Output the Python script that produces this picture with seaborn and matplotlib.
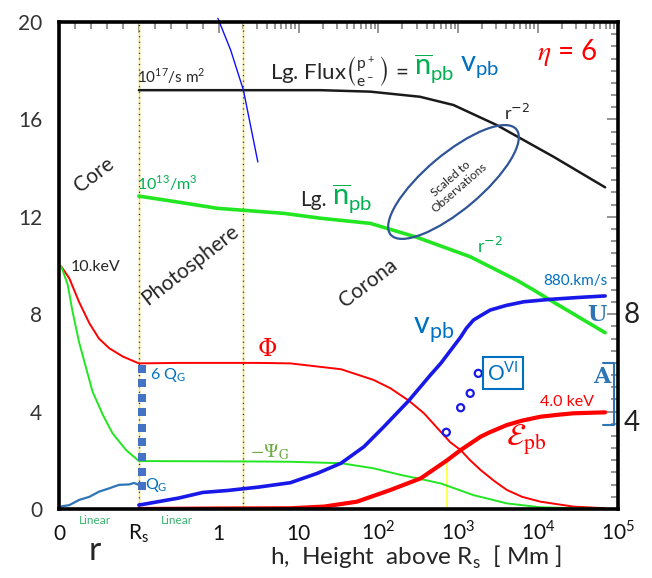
import numpy as np
import matplotlib
matplotlib.use("Agg")
import matplotlib.pyplot as plt
import matplotlib.transforms as mtransforms
from matplotlib.patches import Ellipse
from matplotlib.ticker import FixedLocator, NullFormatter
import seaborn as sns

sns.set_theme(style="white")
plt.rcParams["font.family"] = ["Lato", "DejaVu Sans"]

# x axis: -1..0 = r/Rs - 1 (core, linear), 0..1 Mm linear height, above 1 Mm log height
def fwd(x):
    x = np.asarray(x, dtype=float)
    safe = np.where(x > 1, x, 1.0)
    return np.where(x <= 1, 1 + x, 2 + np.log10(safe))

def inv(u):
    u = np.asarray(u, dtype=float)
    return np.where(u <= 2, u - 1, 10 ** (np.where(u > 2, u, 2) - 2))

# ---- data (x in the combined coordinate above) ----
flux_x = [0, 1, 19, 79, 331, 871, 3020, 15500, 69000]
flux_y = [17.2, 17.2, 17.2, 17.14, 16.93, 16.59, 15.77, 14.47, 13.21]

npb_x = [0, 0.5, 0.98, 6.6, 19, 79, 302, 1410, 5370, 8710, 14100, 69000]
npb_y = [12.85, 12.6, 12.35, 12.14, 11.94, 11.73, 11.16, 10.36, 9.4, 9.0, 8.58, 7.24]

nH_x = [0.99, 1.41, 2.04, 3.09]
nH_y = [20.15, 18.85, 17.2, 14.25]

phi_x = [-1, -0.97, -0.87, -0.75, -0.62, -0.5, -0.37, -0.2, 0, 0.5, 3.16, 7.9,
         34, 87, 141, 240, 372, 603, 794, 1070, 1410, 1905, 2820, 4070, 6300,
         10700, 27500, 69000]
phi_y = [10, 9.95, 9.47, 8.51, 7.63, 7.0, 6.6, 6.26, 5.98, 6.0, 6.0, 5.98,
         5.74, 5.3, 4.96, 4.45, 3.93, 3.17, 2.74, 2.42, 2.0, 1.6, 1.15, 0.78, 0.5,
         0.3, 0.1, 0.03]

psi_x = [-1, -0.97, -0.89, -0.83, -0.75, -0.66, -0.58, -0.45, -0.33, -0.16, 0,
         3.16, 7.9, 34, 87, 190, 372, 603, 1549, 4070, 10700, 69000]
psi_y = [10, 9.95, 9.2, 8.1, 6.87, 5.78, 4.82, 3.86, 3.11, 2.42, 1.97,
         1.95, 1.94, 1.88, 1.67, 1.4, 1.2, 1.05, 0.57, 0.23, 0.07, 0.0]

vpb_x = [0, 0.5, 0.8, 1.29, 3.16, 7.9, 17, 34, 66, 117, 240, 447, 603, 1070,
         1260, 1549, 2000, 2512, 3980, 6600, 14100, 33000, 69000]
vpb_y = [0.16, 0.45, 0.68, 0.76, 0.9, 1.08, 1.46, 1.88, 2.56, 3.38, 4.45, 5.5,
         5.98, 7.06, 7.42, 7.76, 7.98, 8.17, 8.36, 8.51, 8.61, 8.69, 8.75]

eps_x = [0, 1, 7.9, 20.9, 53.7, 141, 339, 724, 1070, 1905, 2512, 4070, 6300,
         10700, 17800, 27500, 69000]
eps_y = [0.0, 0.02, 0.03, 0.1, 0.3, 0.78, 1.26, 2.0, 2.42, 2.97, 3.16, 3.45, 3.63,
         3.79, 3.87, 3.93, 3.97]

qg_x = [-1, -0.87, -0.75, -0.62, -0.5, -0.37, -0.25, -0.12, -0.06, 0]
qg_y = [0.09, 0.16, 0.37, 0.5, 0.71, 0.85, 0.99, 1.01, 1.07, 0.99]

sq_x = [0.04] * 9
sq_y = [5.74, 5.16, 4.55, 3.97, 3.34, 2.76, 2.15, 1.53, 0.96]

ovi_x = [708, 1070, 1410, 1780]
ovi_y = [3.15, 4.16, 4.75, 5.57]

vlines_x = [0, 2]

major_x = [-1, 0, 1, 10, 100, 1e3, 1e4, 1e5]
major_lab = ["0", r"R$_\mathregular{s}$", "1", "10", r"10$^\mathregular{2}$",
             r"10$^\mathregular{3}$", r"10$^\mathregular{4}$", r"10$^\mathregular{5}$"]
minor_x = ([-0.8, -0.6, -0.4, -0.2, 0.2, 0.4, 0.6, 0.8]
           + [k * 10 ** d for d in range(0, 5) for k in range(2, 10)])

# colours
LIME = "#22e622"
TGREEN = "#00b050"
TBLUE = "#0070c0"
CBLUE = "#1818e8"
RED = "#ff0000"

W, H = 652, 578
fig = plt.figure(figsize=(W / 100, H / 100), dpi=100)
ax = fig.add_axes([59 / W, 1 - 509 / H, 559 / W, 487 / H])

for xv in vlines_x:
    ax.axvline(xv, color="#ffee00", lw=1.0, zorder=1)
    ax.axvline(xv, color="#2020c0", lw=1.0, ls=(0, (0.8, 3.2)), zorder=1)

sns.lineplot(x=flux_x, y=flux_y, ax=ax, color="k", lw=1.8, sort=False, estimator=None)
sns.lineplot(x=npb_x, y=npb_y, ax=ax, color=LIME, lw=2.6, sort=False, estimator=None)
sns.lineplot(x=nH_x, y=nH_y, ax=ax, color="#1010ff", lw=1.0, sort=False,
             estimator=None, clip_on=False)
sns.lineplot(x=phi_x, y=phi_y, ax=ax, color=RED, lw=1.4, sort=False, estimator=None)
sns.lineplot(x=psi_x, y=psi_y, ax=ax, color=LIME, lw=1.4, sort=False, estimator=None)
sns.lineplot(x=vpb_x, y=vpb_y, ax=ax, color=CBLUE, lw=2.6, sort=False, estimator=None)
sns.lineplot(x=eps_x, y=eps_y, ax=ax, color=RED, lw=3.0, sort=False, estimator=None)
sns.lineplot(x=qg_x, y=qg_y, ax=ax, color="#2e75b6", lw=1.6, sort=False, estimator=None)
ax.vlines(eps_x[7], 0, eps_y[7], color="#ffff55", lw=1.5, zorder=1)

sns.scatterplot(x=sq_x, y=sq_y, ax=ax, marker="s", s=32, color="#4472c4",
                edgecolor="none", zorder=4)
sns.scatterplot(x=ovi_x, y=ovi_y, ax=ax, marker="o", s=26, facecolors="none",
                edgecolors=CBLUE, linewidth=1.6, zorder=4)

ax.set_xscale("function", functions=(fwd, inv))
ax.set_xlim(-1, 1e5)
ax.set_ylim(0, 20)
ax.set_xlabel("")
ax.set_ylabel("")

ax.xaxis.set_major_locator(FixedLocator(major_x))
ax.xaxis.set_minor_locator(FixedLocator(minor_x))
ax.xaxis.set_minor_formatter(NullFormatter())
ax.set_xticklabels(major_lab)
ax.set_yticks([0, 4, 8, 12, 16, 20])
ax.set_yticks(np.arange(0, 20.01, 0.5), minor=True)

ax.tick_params(which="both", direction="in", top=True, right=True,
               color="#777777", width=1.1)
ax.tick_params(which="major", length=8)
ax.tick_params(which="minor", length=5)
ax.tick_params(axis="x", which="major", labelsize=15, pad=22, labelcolor="#111111")
ax.tick_params(axis="y", which="major", labelsize=15, pad=12, labelcolor="#333333")
for tl in ax.get_xticklabels():
    tl.set_verticalalignment("baseline")

for s in ax.spines.values():
    s.set_color("black")
    s.set_linewidth(2.6)
    s.set_visible(True)

# ellipse "Scaled to Observations"
etrans = fig.dpi_scale_trans + mtransforms.ScaledTranslation(871, 13.43, ax.transData)
ax.add_patch(Ellipse((0, 0), 1.64, 0.56, angle=40, transform=etrans,
                     fill=False, edgecolor="#2f5597", lw=1.6, zorder=5))

# bracket for "A"
ax.plot([0.973, 0.993, 0.993, 0.973], [0.2998, 0.2998, 0.1725, 0.1725],
        transform=ax.transAxes, color="#2e75b6", lw=1.5, clip_on=False)


def put(px, py, s, **kw):
    kw.setdefault("va", "center")
    fig.text(px / W, 1 - py / H, s, **kw)


put(567, 52, r"$\eta$ = 6", color=RED, fontsize=20, ha="center", math_fontfamily="stix")
put(137, 76, r"10$^\mathregular{17}$/s m$^\mathregular{2}$", fontsize=11, ha="left")
put(270, 72, r"Lg. Flux$\binom{\mathregular{p^+}}{\mathregular{e^-}}$ =", fontsize=16, ha="left")
put(414, 68, r"$\overline{\mathregular{n}}_{\mathregular{pb}}$", color=TGREEN, fontsize=21, ha="left")
put(460, 68, r"v$_{\mathregular{pb}}$", color=TBLUE, fontsize=21, ha="left")
put(517, 113, r"r$^{-2}$", fontsize=13, ha="center")
put(455, 183, "Scaled to\nObservations", fontsize=8.5, rotation=41, ha="center",
    color="#222222", linespacing=1.1)
put(137, 183, r"10$^\mathregular{13}$/m$^\mathregular{3}$", color=TGREEN, fontsize=11.5, ha="left")
put(300, 200, "Lg.", fontsize=15, ha="left")
put(332, 198, r"$\overline{\mathregular{n}}_{\mathregular{pb}}$", color=TGREEN, fontsize=21, ha="left")
put(490, 246, r"r$^{-2}$", color=TGREEN, fontsize=13, ha="center")
put(543, 281, "880.km/s", color=TBLUE, fontsize=11, ha="left")
put(94, 175, "Core", fontsize=15, rotation=37, ha="center")
put(190, 265, "Photosphere", fontsize=15, rotation=38, ha="center")
put(368, 283, "Corona", fontsize=15, rotation=37, ha="center")
put(71, 267, "10.keV", fontsize=11.5, ha="left")
put(150, 375, r"6 Q$_\mathregular{G}$", color=TBLUE, fontsize=11.5, ha="left")
put(145, 485, r"Q$_\mathregular{G}$", color=TBLUE, fontsize=11.5, ha="left")
put(267, 350, "Φ", color=RED, fontsize=17, ha="center", family="DejaVu Serif")
put(250, 452, r"$-\Psi_\mathrm{G}$", color="#70ad47", fontsize=14, ha="left", math_fontfamily="stix")
put(413, 330, r"v$_{\mathregular{pb}}$", color=TBLUE, fontsize=22, ha="left")
put(503, 373, r"O$^{\mathregular{VI}}$", color=TBLUE, fontsize=15, ha="center",
    bbox=dict(boxstyle="square,pad=0.2", fc="white", ec=TBLUE, lw=1.5))
put(540, 402, "4.0 keV", color=RED, fontsize=11.5, ha="left")
put(526, 440, r"$\mathcal{E}_{\mathrm{pb}}$", color=RED, fontsize=22, ha="center", math_fontfamily="stix")
put(597, 315, "U", color="#2e75b6", fontsize=16, ha="center", family="DejaVu Serif", weight="bold")
put(602, 377, "A", color="#2e75b6", fontsize=16, ha="center", family="DejaVu Serif", weight="bold")
put(632, 315, "8", fontsize=20, ha="center", color="#222222")
put(632, 423, "4", fontsize=20, ha="center", color="#222222")
put(95, 520, "Linear", color="#3cb371", fontsize=8.5, ha="center")
put(177, 521, "Linear", color="#3cb371", fontsize=8.5, ha="center")
put(95, 551, "r", fontsize=24, ha="center")
put(270, 557, r"h,  Height  above R$_\mathregular{s}$  [ Mm ]", fontsize=17.5, ha="left")

fig.savefig("out.png", dpi=100)
